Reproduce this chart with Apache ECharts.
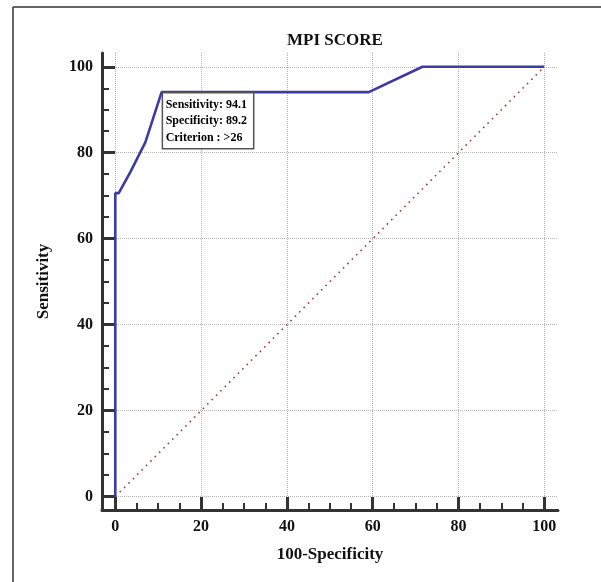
<!DOCTYPE html>
<html><head><meta charset="utf-8">
<script src="https://cdn.jsdelivr.net/npm/echarts@6/dist/echarts.min.js"></script>
<style>html,body{margin:0;padding:0;background:#fff}#c{width:601px;height:582px}</style>
</head><body><div id="c"></div>
<script>
const title = 'MPI SCORE';
const xName = '100-Specificity';
const yName = 'Sensitivity';
const majorTicks = [0, 20, 40, 60, 80, 100];
const minorTicks = [5, 10, 15, 25, 30, 35, 45, 50, 55, 65, 70, 75, 85, 90, 95];
const rocX = [0, 0, 0.8, 3.5, 7, 10.8, 59.1, 71.6, 100];
const rocY = [0, 70.6, 70.6, 75.5, 82.4, 94.1, 94.1, 100, 100];
const diagX = [0, 100];
const diagY = [0, 100];
const cutoff = [10.8, 94.1];
const noteLines = ['Sensitivity: 94.1', 'Specificity: 89.2', 'Criterion : >26'];

const FONT = '"Liberation Serif", "Times New Roman", serif';
const AX = '#333';
const axMin = -3.1, axMax = 103.2;

function mainAxis(isX) {
  return {
    type: 'value', min: axMin, max: axMax,
    position: isX ? 'bottom' : 'left',
    name: isX ? xName : yName,
    nameLocation: 'middle',
    nameGap: isX ? 36 : 50,
    nameTextStyle: {fontFamily: FONT, fontWeight: 'bold', fontSize: 17, color: '#111'},
    axisLine: {show: true, onZero: false, lineStyle: {color: AX, width: 3}},
    axisTick: {show: true, inside: true, length: 13, customValues: majorTicks, lineStyle: {color: AX, width: 3}},
    axisLabel: {show: true, customValues: majorTicks, margin: 9, fontFamily: FONT, fontWeight: 'bold', fontSize: 16, color: '#111'},
    splitLine: {show: true, lineStyle: {color: '#b4b4b4', width: 1, type: 'dotted'}},
    minorTick: {show: false}
  };
}
function minorAxis(isX) {
  return {
    type: 'value', min: axMin, max: axMax,
    position: isX ? 'bottom' : 'left',
    axisLine: {show: false, onZero: false},
    axisTick: {show: true, inside: true, length: 7, customValues: minorTicks, lineStyle: {color: AX, width: 2}},
    axisLabel: {show: false},
    splitLine: {show: false}
  };
}

const chart = echarts.init(document.getElementById('c'), null, {renderer: 'canvas'});
chart.setOption({
  animation: false,
  backgroundColor: '#fff',
  title: {text: title, left: 330, textAlign: 'center', top: 27,
    textStyle: {fontFamily: FONT, fontWeight: 'bold', fontSize: 17, color: '#111'}},
  grid: {left: 102, right: 43, top: 53, bottom: 72, containLabel: false},
  xAxis: [mainAxis(true), minorAxis(true)],
  yAxis: [mainAxis(false), minorAxis(false)],
  graphic: [
    {type: 'line', shape: {x1: 13, y1: 7, x2: 13, y2: 582}, style: {stroke: '#333', lineWidth: 1.5}},
    {type: 'line', shape: {x1: 13, y1: 7, x2: 601, y2: 7}, style: {stroke: '#333', lineWidth: 1.5}}
  ],
  series: [
    {
      type: 'line', xAxisIndex: 0, yAxisIndex: 0, showSymbol: false, silent: true,
      data: diagX.map((x, i) => [x, diagY[i]]),
      lineStyle: {color: '#a83a3a', width: 1.6, type: [1.6, 4.6]},
      z: 2
    },
    {
      type: 'line', xAxisIndex: 0, yAxisIndex: 0, showSymbol: false, silent: true,
      data: rocX.map((x, i) => [x, rocY[i]]),
      lineStyle: {color: '#3b3ba6', width: 2.6},
      z: 3,
      markPoint: {
        silent: true,
        symbol: 'rect', symbolSize: 1,
        itemStyle: {color: 'rgba(0,0,0,0)'},
        data: [{coord: cutoff}],
        label: {
          show: true,
          position: [2, 2],
          align: 'left', verticalAlign: 'top',
          formatter: () => noteLines.join('\n'),
          fontFamily: FONT, fontSize: 12, fontWeight: 'bold', color: '#000',
          lineHeight: 16.5,
          backgroundColor: '#fff', borderColor: '#555', borderWidth: 1.5,
          padding: [3, 6, 2, 2.5]
        }
      }
    }
  ]
});
</script></body></html>
